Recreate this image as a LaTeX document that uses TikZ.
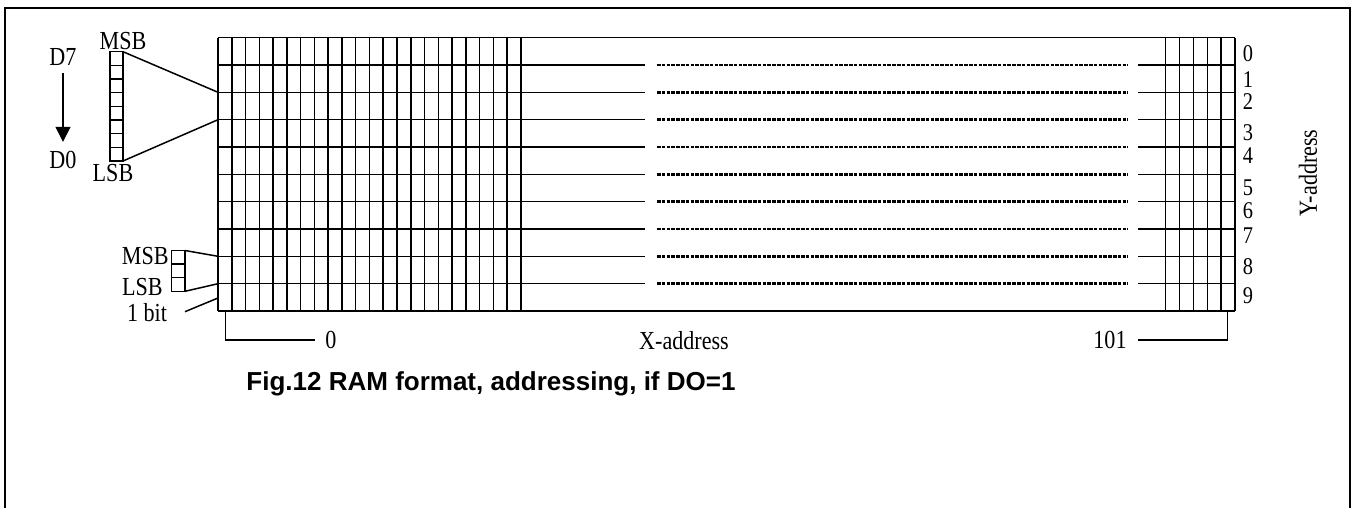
\documentclass[tikz,border=0pt]{standalone}
\usepackage{fontspec}
\setmainfont{Liberation Serif}[FakeStretch=0.85]
\newfontfamily\capfont{Liberation Sans}
\usetikzlibrary{arrows.meta}

\begin{document}
\begin{tikzpicture}[x=0.5pt,y=-0.5pt,
  lbl/.style={inner sep=0pt,font=\fontsize{13}{13}\selectfont},
  num/.style={inner sep=0pt,font=\fontsize{12}{12}\selectfont},
  gridline/.style={line width=0.75pt},
  gapline/.style={line width=1.3pt,dash pattern=on 1.8pt off 0.6pt}]

\useasboundingbox (0,0) rectangle (1353,508);
\draw[line width=1.2pt] (5,508) -- (5,8) -- (1350,8) -- (1350,508);

\draw[gridline] (218,37.7) -- (1235,37.7);
\draw[gridline] (218,311) -- (1235,311);
\foreach \r in {1,...,9} {
  \draw[gridline] (218,{37.7+27.33*\r}) -- (645,{37.7+27.33*\r});
  \draw[gapline] (657,{37.7+27.33*\r}) -- (1128,{37.7+27.33*\r});
  \draw[gridline] (1138,{37.7+27.33*\r}) -- (1235,{37.7+27.33*\r});
}
\foreach \c in {0,...,22}
  \draw[gridline] ({218+13.77*\c},37.7) -- ({218+13.77*\c},311);
\foreach \c in {0,...,5}
  \draw[gridline] ({1165.7+13.86*\c},37.7) -- ({1165.7+13.86*\c},311);

\foreach \c in {0,...,7}
  \draw[gridline] (110,{51.7+13.66*\c}) rectangle ++(13,13.66);
\coordinate (byteT) at (123,51.7);
\coordinate (byteB) at (123,161);
\draw[gridline] (byteT) -- (218,92.3);
\draw[gridline] (byteB) -- (218,119.7);

\foreach \c in {0,1,2}
  \draw[gridline] (171.5,{250.5+13.6*\c}) rectangle ++(13.5,13.6);
\coordinate (colT) at (185,250.5);
\coordinate (colB) at (185,291.3);
\coordinate (bitE) at (185,311.7);
\draw[gridline] (colT) -- (218,256.3);
\draw[gridline] (colB) -- (218,283.7);
\draw[gridline] (bitE) -- (218,298);

\node[lbl] (d7) at (63,57) {D7};
\node[lbl] (d0) at (63,160) {D0};
\draw[line width=0.6pt,-{Triangle[length=7.5pt,width=7.5pt]},shorten <=3.5pt,shorten >=4.5pt] (d7) -- (d0);
\node[lbl] (msb) at (123,41) {MSB};
\node[lbl] (lsb) at (113,173) {LSB};
\node[lbl,anchor=east] (msb2) at (169,256) {MSB};
\node[lbl,anchor=east] (lsb2) at (163,287) {LSB};
\node[lbl] (onebit) at (147,313) {1 bit};

\foreach \n/\y in {0/53.3,1/79.5,2/102,3/133,4/155.5,5/188,6/210.5,7/235.8,8/266.7,9/295.8}
  \node[num] (y\n) at (1248,\y) {\n};
\node[lbl,rotate=90] (yaddr) at (1308,173) {Y-address};

\node[lbl] (x0) at (331,340) {0};
\node[lbl] (x101) at (1110,340) {101};
\node[lbl] (xaddr) at (684,341) {X-address};
\draw[gridline] (225.7,311) |- (315,340);
\draw[gridline] (1227.7,311) |- (1138,340);

\node[inner sep=0pt,font=\capfont\bfseries\fontsize{13}{13}\selectfont] (cap) at (491,384) {Fig.12 RAM format, addressing, if DO=1};

\end{tikzpicture}
\end{document}
